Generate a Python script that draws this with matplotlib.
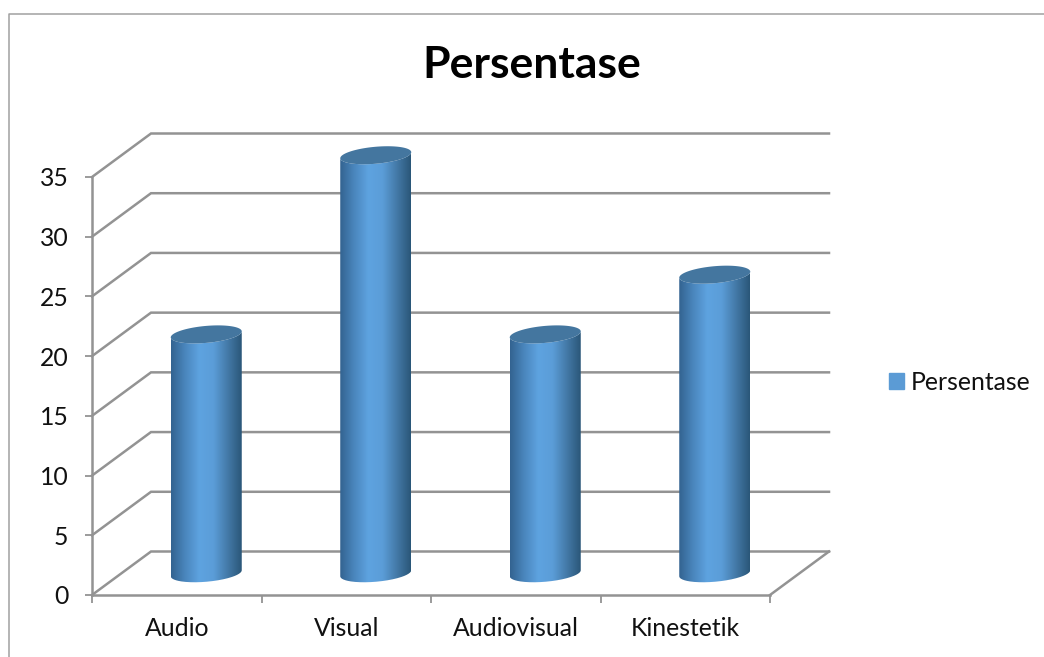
import numpy as np
import matplotlib
matplotlib.use("Agg")
import matplotlib.pyplot as plt
from matplotlib.colors import LinearSegmentedColormap
from matplotlib.lines import Line2D
from matplotlib.patches import Patch
from matplotlib.path import Path

categories = ['Audio', 'Visual', 'Audiovisual', 'Kinestetik']
values = [20, 35, 20, 25]
y_ticks = [0, 5, 10, 15, 20, 25, 30, 35]
series_name = 'Persentase'

W, H = 1044, 657
plt.rcParams['font.family'] = ['Lato', 'DejaVu Sans']

GREY = '#939393'
cyl = LinearSegmentedColormap.from_list('cyl', ['#336390', '#4a86bd', '#5ea3e0', '#5b9dd8', '#447aa8', '#2a5678'])

fig = plt.figure(figsize=(W/100, H/100), dpi=100)
fig.patch.set_facecolor('white')

# outer chart frame (only top and left show up in the picture)
fig.add_artist(Line2D([9/W, 9/W, 1], [0, 1-13.5/H, 1-13.5/H], color='#a0a0a0', lw=1.1))

# axes = the front plane of the 3d box, px 92..770 / 595..177
ax = fig.add_axes([92/W, 1-595/H, (770-92)/W, (595-177)/H])
ax.set_xlim(0, 4)
ax.set_ylim(0, 35)
ax.patch.set_alpha(0)

# depth of the box in data units
dx = 59/678*4
dy = 43.5/418*35

for v in y_ticks:
    ax.plot([0, dx, 4+dx], [v, v+dy, v+dy], color=GREY, lw=1.8, clip_on=False, zorder=1,
            solid_joinstyle='miter')
ax.plot([4, 4+dx], [0, dy], color=GREY, lw=1.8, clip_on=False, zorder=1)

for s in ['top', 'right']:
    ax.spines[s].set_visible(False)
for s in ['left', 'bottom']:
    ax.spines[s].set_color(GREY)
    ax.spines[s].set_linewidth(1.8)

ax.set_yticks(y_ticks)
ax.set_xticks(range(5))
ax.set_xticklabels([])
ax.set_xticks(np.arange(4)+0.5, categories, minor=True)
ax.tick_params(axis='x', which='major', length=6, width=1.3, color=GREY)
ax.tick_params(axis='x', which='minor', length=0, pad=16, labelsize=17.8, labelcolor='#111111')
ax.tick_params(axis='y', length=5, width=1.3, color=GREY, pad=12, labelsize=17.8, labelcolor='#111111')

# cylinders
a = 35.5/678*4
b = 8.5/418*35
tilt = 3/418*35
grad = np.linspace(0, 1, 256).reshape(1, -1)
t_low = np.linspace(np.pi, 2*np.pi, 80)
t_up = np.linspace(2*np.pi, np.pi, 80)

for i, v in enumerate(values):
    cx = i + 0.5 + dx/2
    y0 = dy/2
    y1 = v + dy/2
    xs = np.r_[cx + a*np.cos(t_low), cx + a*np.cos(t_up)]
    ys = np.r_[y0 + b*np.sin(t_low) + tilt*np.cos(t_low), y1 + b*np.sin(t_up) + tilt*np.cos(t_up)]
    im = ax.imshow(grad, cmap=cyl, aspect='auto', extent=(cx-a, cx+a, y0-b-tilt, y1+b+tilt),
                   zorder=3, interpolation='bilinear')
    im.set_clip_path(Path(np.c_[xs, ys]), ax.transData)
    im.set_clip_box(fig.bbox)
    t = np.linspace(0, 2*np.pi, 160)
    ax.fill(cx + a*np.cos(t), y1 + b*np.sin(t) + tilt*np.cos(t), color='#44769f', lw=0, zorder=4, clip_on=False)

ax.set_xlim(0, 4)
ax.set_ylim(0, 35)

fig.text(532/W, 1-65/H, series_name, ha='center', va='center', fontsize=32, fontweight='bold', color='black')

fig.legend(handles=[Patch(color='#5b9bd5', label=series_name)], loc='center left',
           bbox_to_anchor=(867/W, 1-382/H), frameon=False, fontsize=17.8, handlelength=0.6,
           handleheight=0.6, handletextpad=0.28, labelcolor='#111111')

fig.savefig('out.png', dpi=100)
